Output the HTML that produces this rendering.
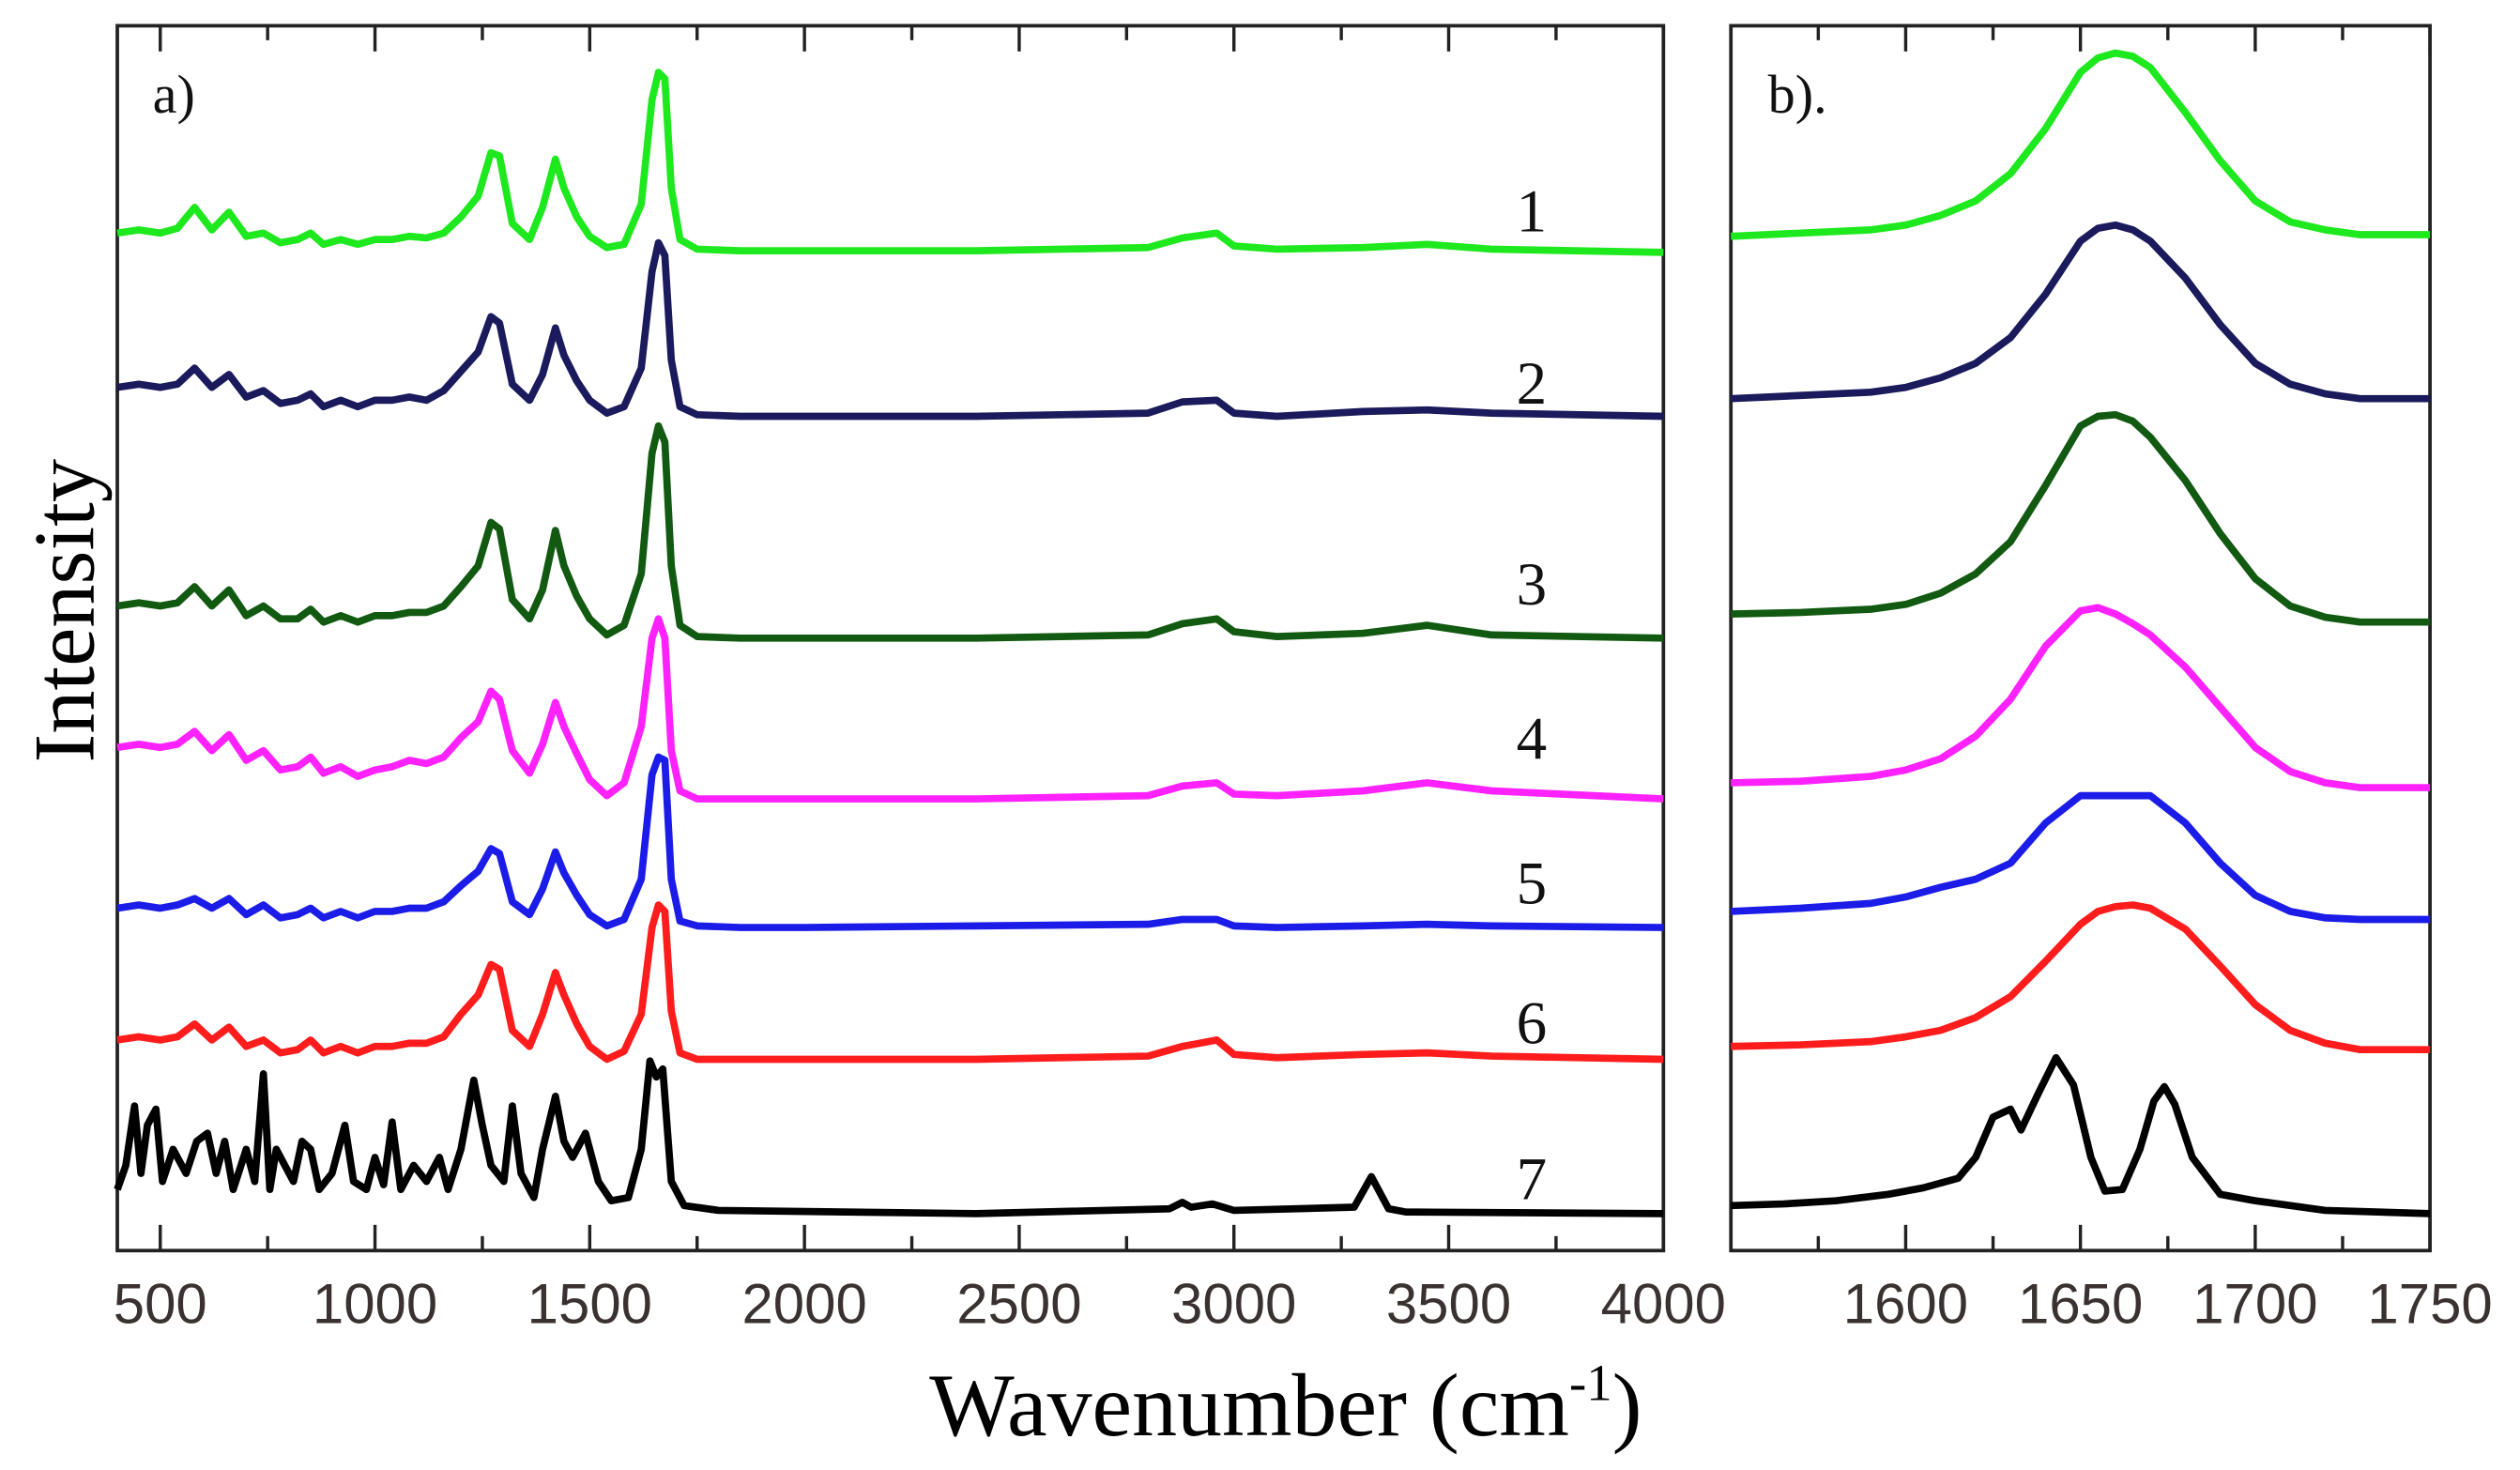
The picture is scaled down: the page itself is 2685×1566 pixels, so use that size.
<!DOCTYPE html>
<html><head><meta charset="utf-8"><style>
html,body{margin:0;padding:0;background:#fff;}
svg{display:block;}
</style></head><body>
<svg id="chart" width="2685" height="1566" viewBox="0 0 1568 914.5" xmlns="http://www.w3.org/2000/svg">
<g id="panelA"></g>
<g id="panelB"></g>
<text x="800" y="893" text-anchor="middle" font-family="Liberation Serif, serif" font-size="56">Wavenumber (cm<tspan font-size="32" dy="-22">-1</tspan><tspan dy="22">)</tspan></text>
<text transform="translate(58,380) rotate(-90)" text-anchor="middle" font-family="Liberation Serif, serif" font-size="54">Intensity</text>
</svg>
<script>
// Panel a data (wavenumber, intensity above each trace's baseline)
const waveA = [400,450,500,540,580,620,660,700,740,780,820,850,880,920,960,1000,1040,1080,1120,1160,1200,1240,1270,1290,1320,1360,1390,1420,1440,1470,1500,1540,1580,1620,1645,1660,1675,1690,1710,1750,1850,2000,2400,2800,2880,2960,3000,3100,3300,3450,3600,4000];
const s1 = [12,14,12,15,28,14,25,10,12,6,8,12,5,8,5,8,8,10,9,12,22,35,62,60,18,8,28,58,40,22,10,3,5,30,95,112,108,40,8,2,1,1,1,3,9,12,4,2,3,5,2,0];
const s2 = [18,20,18,20,30,18,26,12,16,8,10,14,6,10,6,10,10,12,10,16,28,40,62,58,20,10,26,55,38,22,10,2,6,30,90,108,100,35,6,1,0,0,0,2,9,10,2,0,3,4,2,0];
const s3 = [20,22,20,22,32,20,30,14,20,12,12,18,10,14,10,14,14,16,16,20,32,45,72,68,24,12,30,67,45,26,12,2,8,40,115,132,122,45,8,1,0,0,0,2,9,12,4,1,3,8,2,0];
const s4 = [32,34,32,34,42,30,40,24,30,18,20,26,16,20,14,18,20,24,22,26,38,48,67,62,30,16,34,60,45,28,12,2,10,45,100,112,100,30,5,0,0,0,0,2,8,10,3,2,5,10,5,0];
const s5 = [12,14,12,14,18,12,18,8,14,6,8,12,6,10,6,10,10,12,12,16,26,35,49,46,16,8,24,47,34,20,8,1,5,30,95,106,104,30,4,1,0,0,1,2,5,5,1,0,1,2,1,0];
const s6 = [12,14,12,14,22,12,20,8,12,4,6,12,4,8,4,8,8,10,10,14,28,40,59,56,18,8,28,54,40,22,8,0,5,28,82,96,92,30,4,0,0,0,0,2,8,12,3,1,3,4,2,0];
const waveA7 = [400,420,440,455,470,490,505,530,560,585,610,630,650,670,700,720,740,755,770,790,810,830,850,870,900,930,950,980,1000,1020,1040,1060,1090,1120,1150,1170,1200,1230,1250,1270,1300,1320,1340,1370,1390,1420,1440,1460,1490,1520,1550,1590,1620,1640,1655,1670,1690,1720,1800,2400,2850,2880,2900,2950,3000,3280,3320,3360,3400,4000];
const s7 = [15,30,67,25,55,65,20,40,25,45,50,25,45,15,40,20,87,15,40,30,20,45,40,15,25,55,20,15,35,18,57,15,30,20,35,15,40,83,55,30,20,67,25,10,40,73,45,35,50,20,8,10,40,95,85,90,20,5,2,0,3,7,4,6,2,4,23,3,1,0];
const baselinesA = [157,259,397,497,577,659,755];
const labelsA = ["1","2","3","4","5","6","7"];
const labelYA = [130,237,362,458,548,635,732];
const ticksA = [500,1000,1500,2000,2500,3000,3500,4000];
// Panel b data
const waveB = [1550,1570,1590,1600,1610,1620,1630,1640,1650,1655,1660,1665,1670,1680,1690,1700,1710,1720,1730,1750];
const b1 = [-1,1,3,6,12,21,38,66,101,110,113,111,104,76,46,21,8,3,0,0];
const b2 = [0,2,4,7,13,22,38,65,98,106,108,105,98,75,46,22,9,3,0,0];
const b3 = [5,6,8,11,18,30,50,85,122,128,129,125,115,88,55,27,10,3,0,0];
const b4 = [3,4,7,11,18,32,55,88,110,112,108,102,95,75,50,25,10,3,0,0];
const b5 = [5,7,10,14,20,25,35,60,77,77,77,77,77,60,35,15,5,1,0,0];
const b6 = [2,3,5,8,12,20,33,55,78,86,89,90,88,75,52,28,12,4,0,0];
const waveB7 = [1550,1565,1580,1595,1605,1615,1620,1625,1630,1633,1638,1643,1648,1653,1657,1662,1667,1671,1674,1677,1682,1690,1700,1720,1750];
const b7 = [5,6,8,12,16,22,35,60,65,52,75,97,80,35,14,15,40,70,79,68,35,12,8,2,0];
const baselinesB = [146,248,387,490,572,653,755];
const ticksB = [1600,1650,1700,1750];

const colors = ["#1ee81e","#1a1a5c","#125a12","#ff22ff","#1c1ce8","#ff1c1c","#000000"];
const NS = "http://www.w3.org/2000/svg";
function mk(tag, attrs, parent){const e=document.createElementNS(NS,tag);for(const k in attrs)e.setAttribute(k,attrs[k]);parent.appendChild(e);return e;}

const A = {l:73, r:1035, t:16, b:778, x0:400, x1:4000};
const B = {l:1077, r:1512, t:16, b:778, x0:1550, x1:1750};
const xA = v => A.l + (v-A.x0)/(A.x1-A.x0)*(A.r-A.l);
const xB = v => B.l + (v-B.x0)/(B.x1-B.x0)*(B.r-B.l);
const yS = (base, v) => base - v;

function frame(g, P, xf, major, minorStep, name){
  const box = mk('rect',{x:P.l,y:P.t,width:P.r-P.l,height:P.b-P.t,fill:'none',stroke:'#222','stroke-width':2.2},g);
  
  
  for(let v=Math.ceil(P.x0/minorStep)*minorStep; v<=P.x1; v+=minorStep){
    const isMajor = major.indexOf(v)>=0;
    const len = isMajor?16:9;
    const x = xf(v);
    const t1 = mk('line',{x1:x,x2:x,y1:P.b,y2:P.b-len,stroke:'#222','stroke-width':2},g);
    
    
    const t2 = mk('line',{x1:x,x2:x,y1:P.t,y2:P.t+len,stroke:'#222','stroke-width':2},g);
    
    
  }
  major.forEach(v=>{
    const t = mk('text',{x:xf(v),y:823,'text-anchor':'middle','font-family':'Liberation Sans, sans-serif','font-size':35,fill:'#3a3230'},g);
    t.textContent = v;
    
    
  });
}
function trace(g, xs, ys, base, xf, color, name){
  const pts = xs.map((x,i)=>xf(x).toFixed(1)+','+yS(base,ys[i]).toFixed(1)).join(' ');
  const p = mk('polyline',{points:pts,fill:'none',stroke:color,'stroke-width':4.5,'stroke-linejoin':'round'},g);
  
  
}

const gA = document.getElementById('panelA');
frame(gA, A, xA, ticksA, 250, 'panel-a');
const seriesA = [s1,s2,s3,s4,s5,s6];
seriesA.forEach((s,i)=>trace(gA, waveA, s, baselinesA[i], xA, colors[i], 'spectrum-a-'+(i+1)));
trace(gA, waveA7, s7, baselinesA[6], xA, colors[6], 'spectrum-a-7');
labelsA.forEach((l,i)=>{
  const t = mk('text',{x:953,y:labelYA[i]+14,'text-anchor':'middle','font-family':'Liberation Serif, serif','font-size':38,fill:'#111'},gA);
  t.textContent = l;
  
  
});
const la = mk('text',{x:95,y:70,'font-family':'Liberation Serif, serif','font-size':34,fill:'#111'},gA);
la.textContent = 'a)';



const gB = document.getElementById('panelB');
frame(gB, B, xB, ticksB, 25, 'panel-b');
const seriesB = [b1,b2,b3,b4,b5,b6];
seriesB.forEach((s,i)=>trace(gB, waveB, s, baselinesB[i], xB, colors[i], 'spectrum-b-'+(i+1)));
trace(gB, waveB7, b7, baselinesB[6], xB, colors[6], 'spectrum-b-7');
const lb = mk('text',{x:1100,y:70,'font-family':'Liberation Serif, serif','font-size':34,fill:'#111'},gB);
lb.textContent = 'b).';


</script>
</body></html>
